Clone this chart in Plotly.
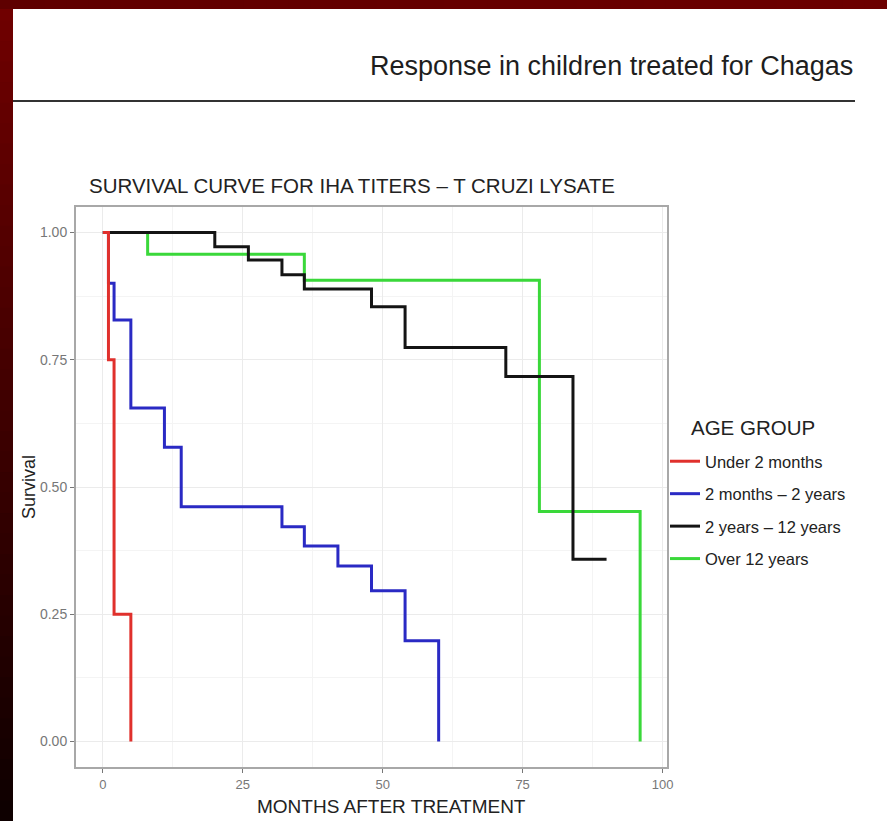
import plotly.graph_objects as go

# ---- data ----
groups = ["Under 2 months", "2 months – 2 years", "2 years – 12 years", "Over 12 years"]
colors = ["#e0302c", "#2a2ac4", "#141414", "#3ad83a"]

under2m_t = [0, 1, 2, 5]
under2m_s = [1.0, 0.75, 0.25, 0.0]

m2_y2_t = [0, 1, 2, 5, 11, 14, 32, 36, 42, 48, 54, 60]
m2_y2_s = [1.0, 0.90, 0.828, 0.655, 0.578, 0.461, 0.422, 0.384, 0.345, 0.296, 0.198, 0.0]

y2_y12_t = [0, 20, 26, 32, 36, 48, 54, 72, 84, 90]
y2_y12_s = [1.0, 0.972, 0.946, 0.917, 0.889, 0.854, 0.774, 0.717, 0.358, 0.358]

over12_t = [0, 8, 36, 78, 96]
over12_s = [1.0, 0.957, 0.906, 0.452, 0.0]

x_ticks = [0, 25, 50, 75, 100]
y_ticks = [0.0, 0.25, 0.5, 0.75, 1.0]
y_ticklabels = ["0.00", "0.25", "0.50", "0.75", "1.00"]

slide_title = "Response in children treated for Chagas"
chart_title = "SURVIVAL CURVE FOR IHA TITERS – T CRUZI LYSATE"
x_title = "MONTHS AFTER TREATMENT"
y_title = "Survival"
legend_title = "AGE GROUP"

series = [(under2m_t, under2m_s), (m2_y2_t, m2_y2_s), (y2_y12_t, y2_y12_s), (over12_t, over12_s)]

# ---- layout geometry ----
W, H = 887, 821
L, R, T, B = 76, 220, 207, 54
PW, PH = W - L - R, H - T - B
FONT = "Liberation Sans, Arial, sans-serif"


def px_x(p):
    return (p - L) / PW


def px_y(p):
    return (H - B - p) / PH


fig = go.Figure()
# draw in reverse so the red curve sits on top; legend keeps original order
for i in reversed(range(len(groups))):
    t, s = series[i]
    fig.add_trace(go.Scatter(
        x=t, y=s, mode="lines", name=groups[i],
        line=dict(color=colors[i], width=3, shape="hv"),
        legendrank=i + 1, legendgroup=groups[i],
    ))

shapes = []
# dark red frame: left strip (vertical gradient) and top strip
n = 40


def lerp(a, b, f):
    return tuple(int(round(a[k] + (b[k] - a[k]) * f)) for k in range(3))


top_c, bot_c = (112, 0, 0), (14, 0, 0)
for k in range(n):
    y0 = k * H / n
    y1 = (k + 1) * H / n + 1
    c = lerp(top_c, bot_c, k / (n - 1))
    shapes.append(dict(type="rect", xref="paper", yref="paper",
                       x0=px_x(0), x1=px_x(13), y0=px_y(y1), y1=px_y(y0),
                       fillcolor="rgb(%d,%d,%d)" % c, line=dict(width=0), layer="above"))
left_c, right_c = (95, 0, 0), (108, 0, 0)
for k in range(n):
    x0 = k * W / n
    x1 = (k + 1) * W / n + 1
    c = lerp(left_c, right_c, k / (n - 1))
    shapes.append(dict(type="rect", xref="paper", yref="paper",
                       x0=px_x(x0), x1=px_x(x1), y0=px_y(9), y1=px_y(0),
                       fillcolor="rgb(%d,%d,%d)" % c, line=dict(width=0), layer="above"))
# rule under the slide title
shapes.append(dict(type="line", xref="paper", yref="paper",
                   x0=px_x(13), x1=px_x(855), y0=px_y(101), y1=px_y(101),
                   line=dict(color="#333333", width=2)))

annotations = [
    dict(text=slide_title, xref="paper", yref="paper", x=px_x(855), y=px_y(66),
         xanchor="right", yanchor="middle", showarrow=False,
         font=dict(family=FONT, size=27, color="#1e1e1e")),
    dict(text=chart_title, xref="paper", yref="paper", x=px_x(87), y=px_y(186),
         xanchor="left", yanchor="middle", showarrow=False,
         font=dict(family=FONT, size=20.5, color="#222222")),
    dict(text=x_title, xref="paper", yref="paper", x=px_x(391), y=px_y(806),
         xanchor="center", yanchor="middle", showarrow=False,
         font=dict(family=FONT, size=19, color="#222222")),
    dict(text=legend_title, xref="paper", yref="paper", x=px_x(689), y=px_y(427),
         xanchor="left", yanchor="middle", showarrow=False,
         font=dict(family=FONT, size=20.5, color="#222222")),
]

fig.update_layout(
    width=W, height=H,
    margin=dict(l=L, r=R, t=T, b=B, pad=0),
    paper_bgcolor="white", plot_bgcolor="white",
    font=dict(family=FONT, color="#333333"),
    shapes=shapes, annotations=annotations,
    showlegend=True,
    legend=dict(
        x=px_x(665), y=px_y(444), xanchor="left", yanchor="top",
        font=dict(family=FONT, size=16.5, color="#222222"),
        tracegroupgap=8, itemwidth=30, bgcolor="rgba(0,0,0,0)",
    ),
    xaxis=dict(
        range=[-4.8, 100.8], tickvals=x_ticks, ticktext=[str(v) for v in x_ticks],
        showgrid=True, gridcolor="#ebebeb", gridwidth=1,
        minor=dict(dtick=12.5, tick0=0, showgrid=True, gridcolor="#f4f4f4", gridwidth=1),
        showline=True, linecolor="#a8a8a8", linewidth=2, mirror=True,
        ticks="outside", ticklen=4, tickcolor="#777777",
        tickfont=dict(family=FONT, size=13, color="#777777"),
        zeroline=False,
    ),
    yaxis=dict(
        range=[-0.05, 1.05], tickvals=y_ticks, ticktext=y_ticklabels,
        showgrid=True, gridcolor="#ebebeb", gridwidth=1,
        minor=dict(dtick=0.125, tick0=0, showgrid=True, gridcolor="#f4f4f4", gridwidth=1),
        showline=True, linecolor="#a8a8a8", linewidth=2, mirror=True,
        ticks="outside", ticklen=4, tickcolor="#777777",
        tickfont=dict(family=FONT, size=14, color="#777777"),
        zeroline=False,
        title=dict(text=y_title, standoff=0, font=dict(family=FONT, size=18, color="#222222")),
    ),
)

fig.write_html("out.html")
